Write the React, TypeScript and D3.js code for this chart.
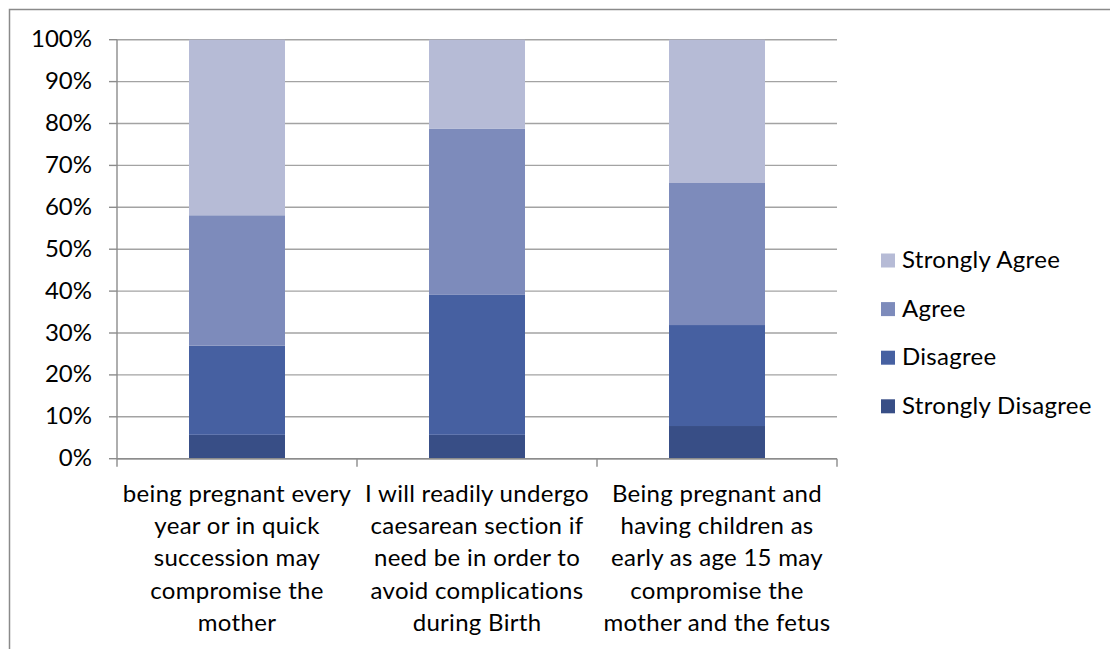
import React from "react";
import * as d3 from "d3";

// Survey statements (pre-wrapped into lines as they appear under each bar)
const categories: string[][] = [
  ["being pregnant every", "year or in quick", "succession may", "compromise the", "mother"],
  ["I will readily undergo", "caesarean section if", "need be in order to", "avoid complications", "during Birth"],
  ["Being pregnant and", "having children as", "early as age 15 may", "compromise the", "mother and the fetus"],
];

// Response shares, percent of respondents per statement
const stronglyDisagree = [5.7, 5.7, 7.8];
const disagree = [21.3, 33.4, 24.1];
const agree = [31.1, 39.7, 33.9];
const stronglyAgree = [41.9, 21.2, 34.2];

const seriesNames = ["Strongly Disagree", "Disagree", "Agree", "Strongly Agree"];
const seriesColors = ["#384E86", "#4660A1", "#7D8BBB", "#B6BBD6"];
const yTicks = [0, 10, 20, 30, 40, 50, 60, 70, 80, 90, 100];

const W = 1110;
const H = 649;
const plot = { left: 117, right: 837, top: 39.7, bottom: 458.7 };
const FONT = "Lato, 'Open Sans', sans-serif";
const FS = 24;

export default function App() {
  const rows = categories.map((_, i) => ({
    idx: i,
    "Strongly Disagree": stronglyDisagree[i],
    Disagree: disagree[i],
    Agree: agree[i],
    "Strongly Agree": stronglyAgree[i],
  }));
  const stacked = d3.stack<any>().keys(seriesNames)(rows);

  const x = d3
    .scaleBand<number>()
    .domain(categories.map((_, i) => i))
    .range([plot.left, plot.right])
    .paddingInner(0.6)
    .paddingOuter(0.3);
  const step = (plot.right - plot.left) / categories.length;
  const y = d3.scaleLinear().domain([0, 100]).range([plot.bottom, plot.top]);
  const fmt = d3.format(".0%");

  const legendOrder = [...seriesNames].reverse();

  return (
    <div style={{ position: "absolute", left: 0, top: 0 }}>
      <svg width={W} height={H} style={{ display: "block", background: "#fff" }}>
        <rect x={9.5} y={9.5} width={W + 40} height={H + 40} fill="#fff" stroke="#8A8A8A" strokeWidth={1.5} />

        {/* horizontal gridlines and left tick marks */}
        {yTicks.map((t) => (
          <g key={t}>
            <line x1={plot.left} x2={plot.right} y1={y(t)} y2={y(t)} stroke="#A3A3A3" strokeWidth={1.4} />
            <line x1={plot.left - 8} x2={plot.left} y1={y(t)} y2={y(t)} stroke="#8C8C8C" strokeWidth={1.4} />
            <text
              x={92}
              y={y(t) + 7.5}
              textAnchor="end"
              fontFamily={FONT}
              fontSize={FS}
              fill="#000"
            >
              {fmt(t / 100)}
            </text>
          </g>
        ))}

        {/* stacked bars */}
        {stacked.map((layer, si) => (
          <g key={layer.key} fill={seriesColors[si]}>
            {layer.map((d, i) => (
              <rect
                key={i}
                x={x(i)!}
                width={x.bandwidth()}
                y={y(d[1])}
                height={y(d[0]) - y(d[1])}
              />
            ))}
          </g>
        ))}

        {/* axes */}
        <line x1={plot.left} x2={plot.left} y1={plot.top} y2={plot.bottom} stroke="#8C8C8C" strokeWidth={1.4} />
        <line x1={plot.left} x2={plot.right} y1={plot.bottom} y2={plot.bottom} stroke="#8C8C8C" strokeWidth={1.4} />
        {d3.range(categories.length + 1).map((k) => (
          <line
            key={k}
            x1={plot.left + k * step}
            x2={plot.left + k * step}
            y1={plot.bottom}
            y2={plot.bottom + 8}
            stroke="#8C8C8C"
            strokeWidth={1.4}
          />
        ))}

        {/* category labels */}
        {categories.map((lines, i) => (
          <text
            key={i}
            textAnchor="middle"
            fontFamily={FONT}
            fontSize={FS}
            letterSpacing={0.3}
            fill="#000"
          >
            {lines.map((ln, li) => (
              <tspan key={li} x={x(i)! + x.bandwidth() / 2} y={501.7 + li * 32.3}>
                {ln}
              </tspan>
            ))}
          </text>
        ))}

        {/* legend */}
        {legendOrder.map((name, li) => {
          const cy = 260.5 + li * 48.6;
          return (
            <g key={name}>
              <rect x={881} y={cy - 7} width={14} height={14} fill={seriesColors[seriesNames.indexOf(name)]} />
              <text x={902} y={cy + 7.5} fontFamily={FONT} fontSize={FS} letterSpacing={0.3} fill="#000">
                {name}
              </text>
            </g>
          );
        })}
      </svg>
    </div>
  );
}
